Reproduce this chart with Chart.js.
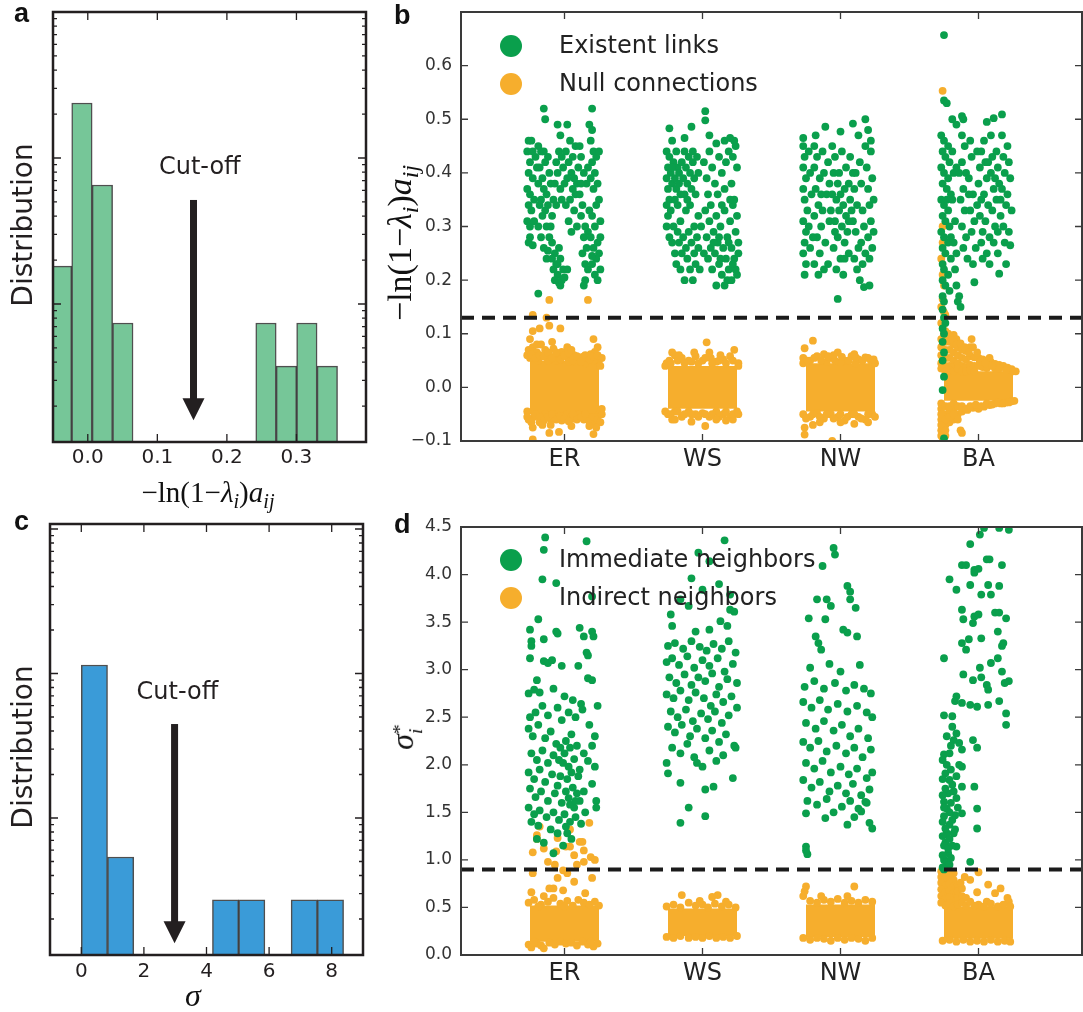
<!DOCTYPE html>
<html><head><meta charset="utf-8">
<script src="https://cdn.jsdelivr.net/npm/chart.js@4.4.1/dist/chart.umd.min.js"></script>
<style>
body{margin:0;background:#fff;width:1083px;height:1012px;position:relative;overflow:hidden;font-family:"DejaVu Sans";}
canvas{position:absolute;}
.lbl{position:absolute;white-space:nowrap;line-height:1;color:#231f20;}
.pl{font-family:"Liberation Sans",Arial,sans-serif;font-weight:bold;font-size:27px;color:#111;}
.cen{transform:translate(-50%,-50%);}
.rot{transform:translate(-50%,-50%) rotate(-90deg);}
.math{font-family:"Liberation Serif","DejaVu Serif",serif;color:#111;}
.sb{font-size:0.7em;position:relative;top:0.28em;}
.ss{display:inline-block;vertical-align:-0.45em;font-size:0.62em;line-height:0.8;text-align:left;}
.ss span{display:block;}
</style></head><body>
<canvas id="ca" width="375" height="480" style="left:0;top:0"></canvas>
<canvas id="cb" width="713" height="520" style="left:370px;top:0"></canvas>
<canvas id="cc" width="375" height="512" style="left:0;top:500px"></canvas>
<canvas id="cd" width="713" height="512" style="left:370px;top:500px"></canvas>

<div class="lbl pl" style="left:14px;top:0px">a</div>
<div class="lbl pl" style="left:394px;top:2px">b</div>
<div class="lbl pl" style="left:14px;top:508px">c</div>
<div class="lbl pl" style="left:394px;top:511px">d</div>
<div class="lbl rot" style="left:23px;top:225px;font-size:28px">Distribution</div>
<div class="lbl rot" style="left:23px;top:747px;font-size:28px">Distribution</div>
<div class="lbl math cen" style="left:208px;top:492px;font-size:29px">−ln(1−<i>λ</i><span class="sb"><i>i</i></span>)<i>a</i><span class="sb"><i>ij</i></span></div>
<div class="lbl math rot" style="left:400px;top:243px;font-size:34px">−ln(1−<i>λ</i><span class="sb"><i>i</i></span>)<i>a</i><span class="sb"><i>ij</i></span></div>
<div class="lbl math cen" style="left:193px;top:995px;font-size:32px"><i>σ</i></div>
<div class="lbl math rot" style="left:405px;top:737px;font-size:32px"><i>σ</i><span class="ss"><span>*</span><span><i>i</i></span></span></div>

<script>
// ---------- data ----------
const categories = ['ER','WS','NW','BA'];

// panel a: histogram (log density)
const aBinCenters = [-0.0378,-0.0084,0.0210,0.0504,0.0798,0.1092,0.1386,0.1680,0.1974,0.2268,0.2562,0.2856,0.3150,0.3444];
const aDensity = [1.82,23.8,6.53,0.741,null,null,null,null,null,null,0.741,0.376,0.741,0.376];
const aXTicks = [0,0.1,0.2,0.3];
const aXRange = [-0.05,0.4];
const aYRange = [0.1135,100];
const aCut = {x:0.152, top:5.16, tip:0.160, textX:0.161, textY:8.55};

// panel c: histogram (log density)
const cBinCenters = [0.419,1.257,2.095,2.933,3.771,4.609,5.447,6.285,7.123,7.961];
const cDensity = [11.45,0.537,null,null,null,0.271,0.271,null,0.271,0.271];
const cXTicks = [0,2,4,6,8];
const cXRange = [-1,9];
const cYRange = [0.1127,108.3];
const cCut = {x:2.98, top:4.47, tip:0.136, textX:3.07, textY:7.33};

// panel b: [jitter offset, value]
const bCut = 0.13;
const bLegend = ['Existent links','Null connections'];
const bGreenER = [[-0.15,0.52],[0.20,0.52],[-0.14,0.50],[-0.05,0.49],[0.02,0.49],[0.18,0.49],[0.20,0.48],[-0.03,0.47],
[-0.26,0.46],[-0.24,0.46],[-0.27,0.44],[-0.25,0.42],[-0.26,0.40],[-0.23,0.39],[-0.27,0.37],[-0.25,0.36],[-0.26,0.34],[-0.24,0.33],[-0.27,0.31],[-0.25,0.30],[-0.26,0.27],[-0.23,0.265],[-0.25,0.28],[-0.22,0.35],[-0.21,0.43],[-0.22,0.31],
[-0.19,0.45],[-0.17,0.44],[-0.18,0.41],[-0.16,0.39],[-0.19,0.38],[-0.15,0.37],[-0.17,0.35],[-0.13,0.36],[-0.18,0.34],[-0.14,0.33],[-0.12,0.34],[-0.16,0.32],[-0.19,0.30],[-0.13,0.30],[-0.17,0.28],[-0.11,0.28],[-0.15,0.26],[-0.12,0.43],[-0.11,0.40],[-0.14,0.42],[-0.10,0.38],[-0.12,0.255],[-0.13,0.24],
[-0.09,0.27],[-0.07,0.25],[-0.09,0.24],[-0.06,0.23],[-0.08,0.22],[-0.05,0.21],[-0.07,0.20],[-0.04,0.195],[-0.03,0.19],[-0.05,0.23],[-0.02,0.20],[-0.01,0.22],[-0.03,0.24],[-0.08,0.35],[-0.06,0.42],[-0.04,0.44],[-0.02,0.43],[-0.05,0.40],[-0.07,0.38],[-0.01,0.41],[-0.03,0.37],[-0.06,0.34],[-0.09,0.32],[-0.02,0.35],
[0.01,0.44],[0.03,0.42],[0.05,0.40],[0.02,0.39],[0.06,0.37],[0.04,0.35],[0.08,0.36],[0.01,0.34],[0.07,0.33],[0.09,0.38],[0.06,0.43],[0.10,0.41],[0.03,0.31],[0.09,0.30],[0.05,0.29],[0.02,0.22],[0.00,0.205],[0.08,0.45],[0.04,0.46],
[0.11,0.36],[0.13,0.34],[0.12,0.32],[0.15,0.30],[0.14,0.28],[0.16,0.26],[0.13,0.25],[0.15,0.23],[0.17,0.22],[0.12,0.43],[0.14,0.40],[0.16,0.38],[0.11,0.45],[0.17,0.29],[0.15,0.20],[0.14,0.19],
[0.19,0.46],[0.21,0.44],[0.20,0.42],[0.22,0.40],[0.19,0.39],[0.24,0.38],[0.21,0.37],[0.25,0.35],[0.23,0.34],[0.20,0.32],[0.26,0.31],[0.22,0.30],[0.19,0.28],[0.24,0.27],[0.21,0.26],[0.25,0.25],[0.23,0.24],[0.20,0.23],[0.26,0.22],[0.22,0.21],[0.24,0.20],[0.20,0.245],[0.26,0.28],[0.23,0.43],[0.25,0.44],[-0.19,0.175],
[-0.20,0.41],[-0.23,0.44],[-0.10,0.30],[-0.04,0.26],[0.07,0.39],[0.12,0.38],[0.18,0.33],[0.17,0.41],[-0.15,0.44],[0.00,0.38]];
const bGreenWS = [[0.02,0.515],[0.02,0.498],[-0.08,0.486],[-0.24,0.483],[-0.22,0.46],[0.16,0.46],[0.23,0.46],[-0.13,0.465],[0.05,0.47],[0.10,0.455],[0.20,0.465],
[-0.26,0.44],[-0.24,0.43],[-0.25,0.41],[-0.23,0.40],[-0.26,0.39],[-0.22,0.38],[-0.25,0.37],[-0.24,0.35],[-0.26,0.34],[-0.23,0.33],[-0.25,0.32],[-0.26,0.30],[-0.24,0.28],[-0.21,0.42],[-0.19,0.44],[-0.18,0.41],[-0.20,0.39],[-0.17,0.40],[-0.19,0.37],[-0.16,0.36],[-0.20,0.35],[-0.18,0.34],[-0.15,0.42],[-0.13,0.44],[-0.14,0.39],[-0.12,0.41],[-0.11,0.38],[-0.13,0.36],[-0.10,0.43],[-0.09,0.40],[-0.08,0.37],[-0.07,0.42],[-0.06,0.39],[-0.05,0.36],[-0.09,0.34],[-0.12,0.33],[-0.16,0.31],[-0.07,0.44],[-0.04,0.43],[-0.03,0.40],
[-0.22,0.27],[-0.20,0.25],[-0.18,0.29],[-0.17,0.27],[-0.15,0.25],[-0.19,0.23],[-0.16,0.22],[-0.13,0.20],[-0.14,0.28],[-0.12,0.26],[-0.11,0.24],[-0.10,0.29],[-0.08,0.27],[-0.09,0.22],[-0.07,0.20],[-0.06,0.25],[-0.05,0.23],[-0.04,0.28],[-0.03,0.26],[-0.02,0.22],[-0.01,0.30],[-0.03,0.32],
[0.01,0.42],[0.03,0.39],[0.05,0.44],[0.07,0.41],[0.04,0.36],[0.09,0.38],[0.12,0.43],[0.14,0.40],[0.17,0.42],[0.19,0.44],[0.22,0.43],[0.24,0.45],[0.25,0.41],[0.21,0.38],[0.11,0.36],[0.16,0.37],
[0.02,0.33],[0.05,0.31],[0.03,0.28],[0.06,0.26],[0.04,0.24],[0.08,0.29],[0.07,0.22],[0.10,0.32],[0.09,0.25],[0.11,0.27],[0.10,0.19],[0.12,0.23],[0.13,0.30],[0.14,0.21],[0.15,0.26],[0.16,0.33],[0.17,0.24],[0.18,0.28],[0.19,0.22],[0.20,0.31],[0.21,0.26],[0.22,0.34],[0.23,0.24],[0.24,0.29],[0.25,0.32],[0.26,0.27],[0.24,0.22],[0.21,0.20],[0.18,0.20],[0.26,0.25],[0.23,0.35],[0.20,0.35],[0.01,0.25],[0.14,0.34],[0.16,0.19],
[-0.22,0.41],[-0.17,0.38],[-0.11,0.35],[-0.21,0.30],[-0.06,0.30],[0.08,0.27],[0.13,0.24],[0.19,0.27],[0.22,0.23],[0.25,0.21],[0.06,0.34],[0.12,0.28]];
const bGreenNW = [[0.18,0.50],[0.09,0.492],[-0.11,0.486],[0.00,0.477],[0.20,0.48],[-0.27,0.465],[-0.18,0.47],[0.13,0.47],[0.22,0.46],
[-0.27,0.45],[-0.26,0.43],[-0.27,0.41],[-0.25,0.39],[-0.27,0.37],[-0.26,0.35],[-0.24,0.33],[-0.27,0.31],[-0.25,0.29],[-0.26,0.27],[-0.27,0.25],[-0.25,0.23],[-0.26,0.21],[-0.23,0.44],[-0.22,0.40],[-0.21,0.36],[-0.23,0.30],[-0.22,0.26],
[-0.19,0.45],[-0.17,0.43],[-0.19,0.41],[-0.15,0.39],[-0.18,0.37],[-0.16,0.34],[-0.19,0.32],[-0.14,0.30],[-0.17,0.28],[-0.15,0.25],[-0.19,0.23],[-0.16,0.21],[-0.13,0.44],[-0.12,0.40],[-0.10,0.36],[-0.13,0.33],[-0.11,0.27],[-0.09,0.23],[-0.12,0.22],[-0.09,0.42],[-0.08,0.31],
[-0.06,0.45],[-0.04,0.43],[-0.05,0.40],[-0.02,0.38],[-0.06,0.36],[-0.03,0.35],[0.00,0.36],[-0.01,0.33],[0.02,0.34],[-0.04,0.31],[0.01,0.30],[0.04,0.32],[-0.02,0.28],[0.03,0.27],[0.05,0.29],[-0.05,0.26],[0.00,0.24],[0.06,0.25],[-0.03,0.22],[0.02,0.21],[0.04,0.41],[0.06,0.38],[0.01,0.44],[0.07,0.35],[-0.07,0.33],[0.07,0.43],[-0.02,0.165],
[0.09,0.40],[0.10,0.37],[0.12,0.34],[0.09,0.31],[0.11,0.29],[0.13,0.26],[0.10,0.24],[0.12,0.22],[0.14,0.42],[0.15,0.38],[0.16,0.33],[0.17,0.30],[0.15,0.27],[0.18,0.25],[0.16,0.23],[0.19,0.41],[0.20,0.37],[0.21,0.34],[0.22,0.31],[0.20,0.28],[0.23,0.26],[0.21,0.24],[0.22,0.44],[0.23,0.39],[0.24,0.35],[0.24,0.29],[0.17,0.187],[0.21,0.19],[0.18,0.45],[0.14,0.20],
[-0.08,0.38],[-0.01,0.40],[0.03,0.37],[0.08,0.33],[-0.04,0.29],[0.06,0.31],[0.11,0.40],[-0.14,0.36],[-0.20,0.28],[0.03,0.24]];
const bGreenBA = [[-0.25,0.657],[-0.25,0.535],[-0.23,0.53],[-0.12,0.506],[-0.11,0.50],[0.11,0.502],[0.17,0.509],[0.06,0.495],[-0.19,0.50],[-0.16,0.49],
[-0.27,0.47],[-0.25,0.46],[-0.26,0.44],[-0.24,0.43],[-0.27,0.41],[-0.25,0.40],[-0.26,0.38],[-0.23,0.37],[-0.27,0.35],[-0.25,0.34],[-0.26,0.32],[-0.24,0.31],[-0.27,0.29],[-0.25,0.28],[-0.26,0.26],[-0.24,0.25],[-0.26,0.23],[-0.25,0.22],[-0.26,0.20],[-0.24,0.19],[-0.26,0.17],[-0.25,0.16],[-0.26,0.145],[-0.25,0.13],[-0.24,0.12],[-0.26,0.11],[-0.25,0.10],[-0.26,0.085],[-0.25,0.065],[-0.26,0.05],[-0.25,0.02],[-0.26,-0.005],[-0.25,-0.095],
[-0.22,0.45],[-0.21,0.42],[-0.22,0.39],[-0.20,0.36],[-0.22,0.33],[-0.21,0.30],[-0.22,0.27],[-0.20,0.24],[-0.22,0.21],[-0.21,0.18],[-0.19,0.44],[-0.18,0.40],[-0.19,0.35],[-0.17,0.31],[-0.18,0.27],[-0.17,0.22],[-0.16,0.19],[-0.15,0.16],[-0.14,0.17],[-0.13,0.15],[-0.16,0.25],
[-0.12,0.47],[-0.10,0.45],[-0.12,0.42],[-0.09,0.40],[-0.11,0.37],[-0.13,0.35],[-0.10,0.33],[-0.12,0.30],[-0.09,0.28],[-0.11,0.26],[-0.08,0.24],[-0.06,0.46],[-0.05,0.43],[-0.07,0.39],[-0.04,0.36],[-0.06,0.33],[-0.03,0.31],[-0.05,0.29],[-0.02,0.26],[-0.04,0.23],[-0.03,0.196],[-0.01,0.44],[0.01,0.41],[0.00,0.38],[0.02,0.35],[0.01,0.32],[0.03,0.29],[0.02,0.27],[0.04,0.46],[0.05,0.42],[0.06,0.39],[0.04,0.36],[0.07,0.34],[0.05,0.31],[0.08,0.28],[0.06,0.25],[0.09,0.47],[0.10,0.43],[0.09,0.40],[0.11,0.37],[0.10,0.33],[0.12,0.30],[0.11,0.27],[0.13,0.44],[0.14,0.41],[0.15,0.38],[0.13,0.35],[0.16,0.32],[0.14,0.29],[0.15,0.212],[0.17,0.47],[0.18,0.43],[0.19,0.40],[0.17,0.37],[0.20,0.34],[0.18,0.30],[0.19,0.27],[0.21,0.45],[0.22,0.42],[0.23,0.39],[0.21,0.36],[0.24,0.33],[0.22,0.29],[0.23,0.265],[0.20,0.23],[0.14,0.25],[0.08,0.23],[0.03,0.24],
[-0.14,0.40],[-0.07,0.36],[-0.01,0.34],[0.07,0.42],[0.12,0.39],[0.16,0.35],[-0.23,0.35],[-0.20,0.28],[-0.16,0.41],[0.02,0.44]];
const bOrangeER = [[-0.11,0.163],[0.17,0.163],[-0.23,0.135],[-0.13,0.13],[-0.11,0.115],[-0.23,0.105],[-0.18,0.11],[-0.03,0.11],[0.21,0.09],
[-0.26,0.07],[-0.23,0.075],[-0.20,0.065],[-0.17,0.08],[-0.14,0.07],[-0.11,0.06],[-0.08,0.072],[-0.05,0.06],[-0.02,0.066],[0.01,0.058],[0.04,0.055],[0.07,0.06],[0.10,0.052],[0.13,0.057],[0.16,0.05],[0.19,0.062],[0.22,0.066],[0.25,0.05],[0.26,0.04],[-0.25,0.055],[-0.19,0.05],[-0.12,0.05],[-0.06,0.05],[0.03,0.048],[0.09,0.047],[0.15,0.045],[0.21,0.05],
[-0.27,0.06],[-0.24,0.062],[-0.21,0.055],[-0.18,0.06],[-0.15,0.058],[-0.12,0.065],[-0.09,0.055],[-0.06,0.065],[-0.03,0.052],[0.00,0.06],[0.03,0.065],[0.06,0.05],[0.09,0.058],[0.12,0.048],[0.15,0.06],[0.18,0.052],[0.21,0.058],[0.24,0.06],[0.27,0.055],[-0.20,0.08],[-0.09,0.085],[0.02,0.075],[0.24,0.075],[-0.25,0.09],[0.05,0.07],
[-0.26,-0.06],[-0.22,-0.055],[-0.18,-0.065],[-0.14,-0.05],[-0.10,-0.06],[-0.06,-0.05],[-0.02,-0.062],[0.02,-0.05],[0.06,-0.058],[0.10,-0.05],[0.14,-0.06],[0.18,-0.055],[0.22,-0.065],[0.25,-0.05],[0.27,-0.04],[-0.27,-0.045],
[-0.27,-0.055],[-0.24,-0.065],[-0.21,-0.05],[-0.18,-0.055],[-0.15,-0.062],[-0.12,-0.055],[-0.09,-0.05],[-0.06,-0.06],[-0.03,-0.053],[0.00,-0.058],[0.03,-0.063],[0.06,-0.05],[0.09,-0.06],[0.12,-0.055],[0.15,-0.05],[0.18,-0.063],[0.21,-0.055],[0.24,-0.06],[0.27,-0.05],[0.26,-0.065],[-0.10,-0.07],[0.05,-0.072],
[-0.23,-0.075],[-0.11,-0.085],[-0.04,-0.083],[0.21,-0.087],[0.23,-0.075],[-0.23,-0.097],[-0.16,-0.07],[0.18,-0.072]];
const bOrangeWS = [[0.03,0.084],[-0.22,0.065],[0.23,0.07],[-0.20,0.06],[-0.15,0.055],[-0.10,0.05],[-0.05,0.058],[0.00,0.05],[0.06,0.055],[0.10,0.048],[0.15,0.052],[0.20,0.058],[-0.26,0.045],[0.26,0.045],[-0.24,0.05],[0.13,0.06],
[-0.27,0.04],[-0.23,0.045],[-0.18,0.05],[-0.13,0.045],[-0.08,0.048],[-0.03,0.045],[0.02,0.055],[0.07,0.045],[0.12,0.05],[0.17,0.045],[0.22,0.05],[0.26,0.04],[-0.17,0.06],[0.05,0.065],[-0.06,0.065],
[-0.25,-0.05],[-0.20,-0.045],[-0.15,-0.055],[-0.10,-0.045],[-0.05,-0.05],[0.00,-0.048],[0.05,-0.055],[0.10,-0.045],[0.15,-0.05],[0.20,-0.055],[0.25,-0.045],[-0.08,-0.064],[0.02,-0.072],[-0.22,-0.06],[0.22,-0.06],[0.17,-0.062],
[-0.27,-0.045],[-0.23,-0.05],[-0.18,-0.045],[-0.13,-0.05],[-0.08,-0.05],[-0.03,-0.055],[0.02,-0.05],[0.07,-0.05],[0.12,-0.055],[0.17,-0.045],[0.22,-0.05],[0.26,-0.05],[-0.20,-0.06],[0.10,-0.06]];
const bOrangeNW = [[-0.20,0.087],[-0.26,0.073],[-0.27,0.055],[-0.22,0.05],[-0.17,0.058],[-0.12,0.062],[-0.07,0.055],[-0.02,0.065],[0.03,0.05],[0.08,0.058],[0.13,0.052],[0.18,0.056],[0.22,0.05],[0.25,0.045],[-0.10,0.048],[0.00,0.047],[0.11,0.045],
[-0.27,0.045],[-0.24,0.05],[-0.19,0.055],[-0.14,0.05],[-0.09,0.058],[-0.04,0.05],[0.01,0.057],[0.06,0.05],[0.11,0.056],[0.16,0.05],[0.20,0.055],[0.24,0.052],[-0.05,0.06],[0.10,0.062],
[-0.27,-0.05],[-0.22,-0.055],[-0.17,-0.048],[-0.12,-0.058],[-0.07,-0.05],[-0.02,-0.055],[0.03,-0.062],[0.08,-0.05],[0.13,-0.055],[0.18,-0.06],[0.23,-0.05],[-0.26,-0.075],[-0.26,-0.088],[-0.06,-0.10],[0.20,-0.065],[-0.15,-0.065],[0.10,-0.068],
[-0.25,-0.058],[-0.20,-0.05],[-0.15,-0.055],[-0.10,-0.05],[-0.05,-0.058],[0.00,-0.05],[0.05,-0.055],[0.10,-0.05],[0.15,-0.058],[0.20,-0.05],[0.25,-0.055],[-0.20,-0.07],[0.00,-0.065]];
const bOrangeBA = [[-0.26,0.553],[-0.26,0.30],[-0.26,0.27],[-0.27,0.24],[-0.26,0.21],[-0.25,0.19],[-0.26,0.165],[-0.27,0.15],[-0.25,0.14],[-0.24,0.135],[-0.27,0.12],[-0.24,0.105],[-0.22,0.10],[-0.20,0.095],[-0.18,0.098],[-0.16,0.09],
[-0.27,0.09],[-0.27,0.075],[-0.27,0.06],[-0.27,0.045],[-0.24,0.085],[-0.24,0.07],[-0.24,0.055],[-0.24,0.04],[-0.21,0.085],[-0.21,0.07],[-0.21,0.055],[-0.21,0.04],[-0.18,0.08],[-0.18,0.065],[-0.18,0.05],[-0.18,0.038],[-0.15,0.075],[-0.15,0.06],[-0.15,0.045],[-0.12,0.07],[-0.12,0.055],[-0.12,0.04],[-0.09,0.068],[-0.09,0.052],[-0.09,0.038],[-0.06,0.075],[-0.06,0.058],[-0.06,0.042],[-0.03,0.056],[-0.03,0.04],[0.00,0.055],[0.00,0.04],[0.03,0.052],[0.03,0.038],[0.06,0.05],[0.06,0.036],[0.09,0.047],[0.12,0.044],[0.12,0.035],[0.15,0.042],[0.18,0.04],[0.21,0.037],[0.24,0.034],[-0.05,0.09],[-0.04,0.075],[0.08,0.055],[-0.01,0.065],
[-0.27,0.035],[-0.24,0.03],[-0.21,0.032],[-0.18,0.03],[-0.15,0.035],[-0.12,0.03],[-0.09,0.03],[-0.06,0.032],[-0.03,0.03],[0.27,0.03],[-0.25,0.10],[-0.22,0.09],[-0.19,0.088],[-0.16,0.08],[-0.13,0.082],[-0.10,0.075],[-0.07,0.065],[0.01,0.048],[0.05,0.045],[0.10,0.04],[0.15,0.035],[0.20,0.032],[0.25,0.03],
[-0.27,-0.04],[-0.27,-0.06],[-0.27,-0.08],[-0.26,-0.10],[-0.24,-0.05],[-0.24,-0.07],[-0.24,-0.09],[-0.21,-0.045],[-0.21,-0.065],[-0.18,-0.04],[-0.18,-0.06],[-0.15,-0.05],[-0.13,-0.08],[-0.12,-0.085],[-0.12,-0.045],[-0.08,-0.042],[-0.04,-0.038],[0.00,-0.04],[0.04,-0.036],[0.08,-0.033],[0.12,-0.03],[0.16,-0.03],[0.20,-0.028],[0.24,-0.026],
[-0.27,-0.03],[-0.27,-0.05],[-0.27,-0.07],[-0.27,-0.09],[-0.24,-0.035],[-0.24,-0.06],[-0.24,-0.08],[-0.21,-0.035],[-0.21,-0.055],[-0.18,-0.03],[-0.18,-0.05],[-0.15,-0.035],[-0.15,-0.06],[-0.12,-0.035],[-0.09,-0.04],[-0.06,-0.035],[-0.02,-0.032],[0.02,-0.035],[0.06,-0.03],[0.10,-0.032],[0.14,-0.028],[0.18,-0.03],[0.22,-0.028],[0.26,-0.025]];
const bCoreLow = [-0.05,-0.04,-0.045,-0.025];
const bCoreHigh = [0.05,0.04,0.045,0.03];

// panel d: [jitter offset, value]
const dCut = 0.9;
const dLegend = ['Immediate neighbors','Indirect neighbors'];
const dGreenER = [[-0.14,4.39],[-0.15,4.26],[0.16,4.35],[-0.16,3.95],[-0.06,3.91],[0.20,3.77],[-0.19,3.53],[-0.25,3.42],[-0.24,3.30],[-0.24,3.25],[-0.25,3.12],[-0.15,3.32],[-0.06,3.40],[-0.05,3.38],[0.11,3.44],[0.14,3.35],[0.20,3.40],[0.21,3.35],[0.16,3.18],[0.17,3.15],[-0.15,3.09],[-0.12,3.07],[-0.09,3.10],[-0.02,3.04],[0.10,3.04],[0.17,2.91],[0.20,2.89],[-0.20,2.89],
[-0.26,2.75],[-0.22,2.79],[-0.18,2.76],[-0.08,2.80],[0.00,2.72],[0.06,2.68],[0.12,2.64],[0.24,2.62],[-0.25,2.50],[-0.21,2.55],[-0.16,2.62],[-0.12,2.52],[-0.05,2.60],[-0.02,2.47],[0.03,2.55],[0.08,2.50],[0.13,2.58],[0.18,2.42],[0.22,2.30],[-0.26,2.38],[-0.23,2.30],[-0.19,2.42],[-0.14,2.28],[-0.10,2.35],[-0.06,2.22],[-0.03,2.18],[0.01,2.25],[0.05,2.32],[0.09,2.20],[0.14,2.12],[0.20,2.20],[-0.24,2.12],[-0.20,2.05],[-0.16,2.15],[-0.12,2.02],[-0.08,2.10],[-0.04,2.05],[0.00,2.12],[0.03,1.98],[0.07,2.06],[0.11,1.95],[0.17,2.04],[0.22,1.98],[-0.26,1.92],[-0.22,1.85],[-0.18,1.95],[-0.14,1.82],[-0.09,1.90],[-0.05,1.78],[0.02,1.85],[0.06,1.76],[0.10,1.88],[0.14,1.72],[0.20,1.80],[0.23,1.62],[-0.25,1.75],[-0.21,1.66],[-0.17,1.72],[-0.12,1.62],[-0.07,1.70],[-0.02,1.60],[0.03,1.65],[0.07,1.55],[0.11,1.62],[0.15,1.50],[0.23,1.55],[-0.26,1.55],[-0.22,1.48],[-0.18,1.52],[-0.13,1.45],[-0.08,1.50],[-0.04,1.42],[0.00,1.48],[0.04,1.40],[0.08,1.45],[0.12,1.38],[-0.24,1.40],[-0.19,1.36],[-0.10,1.32],[-0.05,1.28],[0.01,1.35],[0.05,1.22],[-0.20,1.22],[-0.15,1.18],[-0.08,1.07],[-0.01,1.15],[0.02,1.28],
[0.04,2.18],[-0.01,2.02],[0.05,1.92],[0.09,1.70],[0.04,1.58],[0.08,1.62],[-0.03,1.88],[0.01,1.72]];
const dGreenWS = [[0.16,4.36],[-0.03,4.23],[0.05,4.14],[-0.08,3.96],[0.00,3.84],[0.12,3.90],[0.20,3.79],[-0.16,3.74],[-0.10,3.67],[-0.23,3.58],[-0.22,3.46],[0.20,3.63],[0.23,3.61],[0.13,3.51],[0.18,3.46],[0.05,3.42],[-0.05,3.40],
[-0.25,3.25],[-0.20,3.28],[-0.14,3.22],[-0.08,3.30],[-0.02,3.24],[0.03,3.20],[0.08,3.27],[0.14,3.22],[0.19,3.30],[0.24,3.18],
[-0.26,3.08],[-0.22,3.12],[-0.17,3.05],[-0.11,3.14],[-0.06,3.02],[0.00,3.10],[0.05,3.04],[0.11,3.12],[0.16,2.98],[0.22,3.06],
[-0.24,2.92],[-0.19,2.86],[-0.13,2.95],[-0.08,2.84],[-0.03,2.92],[0.02,2.88],[0.07,2.96],[0.12,2.82],[0.18,2.90],[0.25,2.86],
[-0.26,2.74],[-0.21,2.70],[-0.16,2.78],[-0.10,2.68],[-0.05,2.76],[0.01,2.70],[0.06,2.62],[0.10,2.74],[0.15,2.66],[0.21,2.72],
[-0.23,2.56],[-0.18,2.50],[-0.12,2.58],[-0.07,2.46],[-0.01,2.54],[0.04,2.48],[0.09,2.56],[0.14,2.44],[0.19,2.52],[0.25,2.60],
[-0.25,2.40],[-0.20,2.34],[-0.15,2.42],[-0.09,2.30],[-0.04,2.38],[0.02,2.28],[0.07,2.36],[0.12,2.24],[0.17,2.32],[0.23,2.20],
[-0.22,2.18],[-0.16,2.12],[-0.11,2.22],[-0.06,2.08],[0.05,2.15],[0.15,2.10],[0.24,2.18],[-0.26,2.02],[0.00,1.98],
[-0.16,1.39],[-0.10,1.55],[0.02,1.46],[-0.25,1.91],[-0.16,1.81],[-0.04,2.02],[0.02,1.74],[0.08,1.77],[0.22,1.86],[0.10,2.04]];
const dGreenNW = [[-0.05,4.28],[-0.13,4.09],[-0.04,4.21],[0.05,3.88],[0.07,3.82],[-0.17,3.74],[-0.10,3.74],[-0.07,3.67],[0.07,3.74],[0.11,3.65],[-0.23,3.54],[-0.11,3.53],[0.02,3.42],[0.05,3.39],[0.12,3.35],[-0.18,3.35],[-0.16,3.28],[-0.14,3.21],
[-0.22,3.02],[-0.08,3.06],[0.00,2.98],[0.14,3.05],[-0.26,2.82],[-0.19,2.88],[-0.12,2.80],[-0.04,2.86],[0.04,2.78],[0.10,2.84],[0.17,2.80],[0.22,2.75],
[-0.27,2.66],[-0.21,2.60],[-0.15,2.68],[-0.09,2.58],[-0.02,2.64],[0.05,2.56],[0.12,2.62],[0.19,2.55],[0.23,2.50],
[-0.25,2.44],[-0.18,2.38],[-0.12,2.46],[-0.05,2.36],[0.01,2.42],[0.07,2.30],[0.13,2.38],[0.20,2.28],
[-0.27,2.24],[-0.22,2.18],[-0.16,2.25],[-0.10,2.14],[-0.03,2.20],[0.04,2.12],[0.10,2.18],[0.16,2.08],[0.22,2.16],
[-0.25,2.02],[-0.19,1.96],[-0.13,2.04],[-0.07,1.92],[0.00,1.98],[0.06,1.90],[0.12,1.96],[0.19,1.86],[0.23,1.92],
[-0.27,1.84],[-0.21,1.76],[-0.15,1.82],[-0.08,1.72],[-0.02,1.78],[0.04,1.70],[0.09,1.80],[0.15,1.68],[0.21,1.74],
[-0.24,1.62],[-0.17,1.58],[-0.10,1.64],[0.01,1.56],[0.07,1.62],[0.13,1.54],[0.19,1.60],
[0.23,1.33],[0.21,1.39],[0.05,1.37],[-0.11,1.44],[-0.25,1.49],[-0.25,1.14],[-0.24,1.06],[-0.25,1.10],[0.15,1.51],[0.18,1.61],[-0.05,1.50],[0.10,1.45]];
const dGreenBA = [[0.04,4.49],[0.15,4.49],[0.22,4.47],[-0.06,4.32],[0.01,4.42],[-0.12,4.10],[-0.09,4.10],[-0.03,4.05],[0.00,4.06],[0.06,4.16],[0.08,4.16],[0.17,4.10],[-0.21,3.95],[-0.03,4.02],[-0.16,3.84],[-0.06,3.89],[0.02,3.79],[0.09,3.79],[0.15,3.88],[0.07,3.89],[-0.12,3.63],[-0.11,3.53],[-0.03,3.56],[0.00,3.58],[0.12,3.60],[0.15,3.60],[0.20,3.54],[-0.04,3.49],[0.14,3.40],[-0.07,3.32],[0.02,3.33],[-0.12,3.28],[-0.09,3.21],[0.17,3.25],[0.18,3.28],[-0.25,3.12],[0.14,3.12],[0.01,3.02],[0.09,3.07],[-0.11,2.95],[-0.04,2.89],[0.02,2.92],[0.17,2.98],[0.22,2.88],[0.19,2.86],[0.06,2.84],[0.07,2.79],[-0.16,2.72],[-0.17,2.67],[-0.12,2.65],[-0.06,2.63],[-0.01,2.61],[0.07,2.63],[0.15,2.67],[0.20,2.54],[0.20,2.42],[-0.25,2.52],[-0.19,2.51],[-0.19,2.40],[-0.16,2.33],[-0.18,2.26],[-0.14,2.23],[-0.04,2.26],[-0.12,2.16],[-0.01,2.18],[-0.25,2.11],[-0.21,2.12],[-0.12,1.98],[-0.16,1.88],[-0.12,1.77],[-0.03,1.77],[-0.24,1.91],[-0.19,1.79],[-0.22,1.70],[-0.16,1.65],[-0.25,1.61],[-0.23,1.54],[-0.17,1.47],[-0.12,1.49],[-0.01,1.54],[-0.25,1.46],[-0.21,1.37],[-0.23,1.28],[-0.18,1.28],[-0.16,1.14],[-0.24,1.18],[-0.22,1.07],[-0.25,1.00],[-0.24,0.93],[-0.06,0.98],[-0.01,1.33],
[-0.26,2.05],[-0.23,2.00],[-0.20,1.95],[-0.26,1.85],[-0.21,1.84],[-0.24,1.75],[-0.18,1.72],[-0.26,1.68],[-0.20,1.60],[-0.25,1.55],[-0.21,1.50],[-0.26,1.40],[-0.19,1.42],[-0.24,1.33],[-0.26,1.25],[-0.21,1.22],[-0.25,1.15],[-0.22,1.12],[-0.26,1.05],[-0.23,0.98],[-0.26,0.92],[-0.21,0.95],[-0.20,1.02],[-0.25,0.90],[-0.20,2.20],[-0.23,2.30],[-0.14,2.00],[-0.15,1.55],[-0.19,1.15],[-0.17,1.32]];
const dOrangeER = [[-0.20,1.26],[-0.23,1.08],[-0.15,1.12],[-0.12,0.98],[-0.07,0.95],[-0.05,1.23],[0.01,1.14],[0.04,1.14],[0.07,1.05],[0.13,1.19],[0.14,1.10],[0.19,1.03],[0.22,1.00],[0.20,0.81],[0.09,0.95],[-0.01,0.89],[0.02,0.86],[-0.05,0.81],[-0.08,0.70],[-0.11,0.70],[-0.01,0.68],[0.07,0.77],[-0.23,0.86],[-0.24,0.66],[0.14,0.98],[0.18,1.39],[0.04,1.32],[-0.18,1.35],[-0.20,1.22],[0.11,1.19],[-0.06,1.09],[0.15,0.65],[-0.15,0.62],
[-0.26,0.55],[-0.22,0.58],[-0.17,0.53],[-0.12,0.56],[-0.08,0.60],[-0.03,0.54],[0.02,0.57],[0.06,0.52],[0.10,0.58],[0.14,0.55],[0.18,0.53],[0.22,0.56],[0.25,0.52],[-0.19,0.51],[0.00,0.51],
[-0.26,0.11],[-0.24,0.08],[-0.20,0.12],[-0.17,0.10],[-0.15,0.07],[-0.11,0.13],[-0.07,0.11],[-0.03,0.14],[0.01,0.12],[0.05,0.13],[0.09,0.10],[0.13,0.14],[0.17,0.11],[0.21,0.09],[0.24,0.12],[-0.22,0.14],[0.19,0.14]];
const dOrangeWS = [[-0.15,0.63],[0.07,0.61],[0.11,0.63],[-0.26,0.51],[-0.21,0.53],[-0.16,0.50],[-0.10,0.55],[-0.05,0.52],[0.00,0.53],[0.04,0.50],[0.09,0.54],[0.14,0.51],[0.19,0.53],[0.24,0.50],[-0.02,0.57],[0.17,0.56],
[-0.26,0.19],[-0.21,0.18],[-0.16,0.20],[-0.10,0.18],[-0.05,0.19],[0.00,0.18],[0.05,0.20],[0.10,0.18],[0.15,0.19],[0.20,0.18],[0.25,0.20]];
const dOrangeNW = [[-0.25,0.72],[0.10,0.72],[-0.27,0.62],[-0.22,0.57],[-0.17,0.55],[-0.12,0.58],[-0.07,0.56],[-0.02,0.59],[0.03,0.55],[0.08,0.57],[0.13,0.55],[0.18,0.58],[0.23,0.56],[-0.26,0.67],[0.05,0.62],[-0.14,0.62],
[-0.27,0.18],[-0.22,0.16],[-0.17,0.18],[-0.12,0.17],[-0.07,0.15],[-0.02,0.18],[0.03,0.16],[0.08,0.18],[0.13,0.17],[0.18,0.15],[0.23,0.18]];
const dOrangeBA = [[-0.27,0.88],[-0.24,0.87],[-0.21,0.89],[-0.18,0.86],[-0.27,0.82],[-0.24,0.80],[-0.21,0.83],[-0.18,0.79],[-0.27,0.76],[-0.24,0.73],[-0.21,0.75],[-0.18,0.72],[-0.15,0.74],[-0.27,0.69],[-0.24,0.66],[-0.21,0.68],[-0.18,0.65],[-0.15,0.67],[-0.12,0.70],[-0.27,0.62],[-0.24,0.59],[-0.21,0.61],[-0.18,0.58],[-0.15,0.60],[-0.12,0.62],[-0.09,0.60],[-0.27,0.55],[-0.24,0.52],[-0.21,0.54],[-0.18,0.51],[-0.15,0.53],[-0.12,0.55],[-0.09,0.52],[-0.06,0.56],
[0.00,0.87],[-0.06,0.79],[-0.13,0.76],[0.07,0.74],[0.16,0.70],[-0.01,0.66],[0.12,0.65],[0.21,0.60],[0.22,0.56],[0.06,0.56],[-0.10,0.82],
[0.00,0.53],[0.04,0.51],[0.09,0.54],[0.14,0.51],[0.18,0.53],[0.23,0.51],[-0.03,0.52],
[-0.26,0.15],[-0.21,0.16],[-0.16,0.14],[-0.11,0.16],[-0.06,0.14],[-0.01,0.15],[0.04,0.14],[0.09,0.16],[0.14,0.14],[0.19,0.15],[0.23,0.14]];
const dCoreLow = [0.14,0.20,0.19,0.17];
const dCoreHigh = [0.52,0.49,0.53,0.51];

// ---------- helpers ----------
const GREEN='#0a9f4c', ORANGE='#f6ae2d';
Chart.defaults.font.family='"DejaVu Sans"';
function jitter(groups){const out=[];groups.forEach((g,i)=>g.forEach(p=>out.push({x:i+1+p[0],y:p[1]})));return out;}
function logTicks(min,max){const t=[];for(let e=-2;e<=3;e++){for(let m=1;m<10;m++){const v=m*Math.pow(10,e);if(v>=min*0.999&&v<=max*1.001)t.push({value:v,major:m===1});}}return t;}
function noPad(s){s.paddingTop=0;s.paddingBottom=0;s.paddingLeft=0;s.paddingRight=0;}

const framePlugin={id:'frame',afterDraw(chart,args,o){
  const {ctx,chartArea:a}=chart;const xs=chart.scales.x,ys=chart.scales.y;
  ctx.save();ctx.strokeStyle=o.color;ctx.lineWidth=o.tickWidth;ctx.beginPath();
  (o.xTicks||[]).forEach(v=>{const p=xs.getPixelForValue(v);ctx.moveTo(p,a.bottom);ctx.lineTo(p,a.bottom-o.len);ctx.moveTo(p,a.top);ctx.lineTo(p,a.top+o.len);});
  ys.ticks.forEach(t=>{const p=ys.getPixelForValue(t.value);if(p<a.top-0.5||p>a.bottom+0.5)return;const l=(t.major===false)?o.minorLen:o.len;ctx.moveTo(a.left,p);ctx.lineTo(a.left+l,p);ctx.moveTo(a.right,p);ctx.lineTo(a.right-l,p);});
  ctx.stroke();
  ctx.lineWidth=o.width;ctx.strokeRect(a.left,a.top,a.right-a.left,a.bottom-a.top);ctx.restore();}};

const arrowPlugin={id:'cutArrow',afterDatasetsDraw(chart,args,o){
  if(!o||o.x===undefined)return;const {ctx}=chart,xs=chart.scales.x,ys=chart.scales.y;
  const px=xs.getPixelForValue(o.x),pt=ys.getPixelForValue(o.top),pp=ys.getPixelForValue(o.tip);
  ctx.save();ctx.fillStyle='#231f20';ctx.fillRect(px-3.5,pt,7,pp-pt-21);
  ctx.beginPath();ctx.moveTo(px-11,pp-22);ctx.lineTo(px+11,pp-22);ctx.lineTo(px,pp);ctx.closePath();ctx.fill();
  ctx.font='24px "DejaVu Sans"';ctx.textAlign='center';ctx.textBaseline='middle';
  ctx.fillText('Cut-off',xs.getPixelForValue(o.textX),ys.getPixelForValue(o.textY));ctx.restore();}};

const legendPlugin={id:'inLegend',afterDraw(chart,args,o){
  if(!o||!o.labels)return;const {ctx,chartArea:a}=chart;const cols=[GREEN,ORANGE];
  ctx.save();ctx.font='24px "DejaVu Sans"';ctx.textBaseline='middle';ctx.textAlign='left';
  o.labels.forEach((lab,i)=>{const y=a.top+o.y0+i*o.dy;ctx.fillStyle=cols[i];ctx.beginPath();ctx.arc(a.left+o.x0,y,11,0,Math.PI*2);ctx.fill();ctx.fillStyle='#222';ctx.fillText(lab,a.left+o.tx,y+1);});
  ctx.restore();}};

function histChart(id,centers,vals,xr,yr,xt,color,pad,yW,xH,cut,tickFmt,tickPad){
  return new Chart(document.getElementById(id),{type:'bar',
    data:{datasets:[{data:centers.map((c,i)=>({x:c,y:vals[i]})),backgroundColor:color,borderColor:'rgba(35,35,35,0.8)',borderWidth:1.5,barPercentage:1,categoryPercentage:1,base:yr[0]}]},
    options:{responsive:false,animation:false,events:[],layout:{padding:pad,autoPadding:false},
      plugins:{legend:{display:false},tooltip:{enabled:false},
        frame:{color:'#231f20',width:2.5,tickWidth:1.3,len:8,minorLen:4,xTicks:xt},
        cutArrow:cut},
      scales:{
        x:{type:'linear',min:xr[0],max:xr[1],offset:false,afterBuildTicks:s=>{s.ticks=xt.map(v=>({value:v}));},afterFit:s=>{s.height=xH;noPad(s);},
           grid:{display:false,drawTicks:false},border:{display:false},ticks:{padding:tickPad,autoSkip:false,maxRotation:0,font:{size:20},color:'#231f20',callback:tickFmt}},
        y:{type:'logarithmic',min:yr[0],max:yr[1],afterBuildTicks:s=>{s.ticks=logTicks(yr[0],yr[1]);},afterFit:s=>{s.width=yW;noPad(s);},
           grid:{display:false,drawTicks:false},border:{display:false},ticks:{display:false}}}},
    plugins:[framePlugin,arrowPlugin]});
}
histChart('ca',aBinCenters,aDensity,aXRange,aYRange,aXTicks,'#76c698',{left:0,top:12,right:9,bottom:0},53,38,aCut,v=>v.toFixed(1),4);
histChart('cc',cBinCenters,cDensity,cXRange,cYRange,cXTicks,'#3a9bd8',{left:0,top:24,right:12,bottom:0},50,57,cCut,v=>String(Math.round(v)),5);

function scatterChart(id,greens,oranges,low,high,cutVal,yMin,yMax,step,yFmt,pad,xH,legend,legY0,legDy){
  const xMin=0.25,xMax=4.75;
  return new Chart(document.getElementById(id),{type:'scatter',
    data:{datasets:[
      {type:'line',data:[{x:xMin,y:cutVal},{x:xMax,y:cutVal}],borderColor:'#1b1b1b',borderWidth:4,borderDash:[13,8],pointRadius:0,fill:false,order:-1},
      {data:jitter(greens),backgroundColor:GREEN,borderColor:GREEN,borderWidth:0,pointRadius:3.9,order:0},
      {data:jitter(oranges),backgroundColor:ORANGE,borderColor:ORANGE,borderWidth:0,pointRadius:3.9,order:1},
      {type:'bar',data:categories.map((c,i)=>({x:i+1,y:[low[i],high[i]]})),backgroundColor:ORANGE,borderWidth:0,categoryPercentage:0.5,barPercentage:1,order:2}]},
    options:{responsive:false,animation:false,events:[],layout:{padding:pad,autoPadding:false},
      plugins:{legend:{display:false},tooltip:{enabled:false},
        frame:{color:'#3a3a3a',width:2,tickWidth:1.3,len:7,minorLen:4,xTicks:[1,2,3,4]},
        inLegend:{labels:legend,x0:50,y0:legY0,dy:legDy,tx:98}},
      scales:{
        x:{type:'linear',min:xMin,max:xMax,offset:false,afterBuildTicks:s=>{s.ticks=categories.map((c,i)=>({value:i+1}));},afterFit:s=>{s.height=xH;noPad(s);},
           grid:{display:false,drawTicks:false},border:{display:false},ticks:{padding:4,autoSkip:false,maxRotation:0,font:{size:24},color:'#222',callback:v=>categories[Math.round(v)-1]}},
        y:{type:'linear',min:yMin,max:yMax,afterFit:s=>{s.width=91;noPad(s);},grid:{display:false,drawTicks:false},border:{display:false},
           ticks:{stepSize:step,padding:9,autoSkip:false,font:{size:17},color:'#333',callback:yFmt}}}},
    plugins:[framePlugin,legendPlugin]});
}
scatterChart('cb',[bGreenER,bGreenWS,bGreenNW,bGreenBA],[bOrangeER,bOrangeWS,bOrangeNW,bOrangeBA],bCoreLow,bCoreHigh,bCut,-0.1,0.7,0.1,
  v=>{if(v>0.65)return '';return (v<-1e-9?'\u2212':'')+Math.abs(v).toFixed(1);},{left:0,top:12,right:1,bottom:39},40,bLegend,34,38);
scatterChart('cd',[dGreenER,dGreenWS,dGreenNW,dGreenBA],[dOrangeER,dOrangeWS,dOrangeNW,dOrangeBA],dCoreLow,dCoreHigh,dCut,0,4.5,0.5,
  v=>v.toFixed(1),{left:0,top:27,right:1,bottom:17},40,dLegend,33,38);
</script>
</body></html>
